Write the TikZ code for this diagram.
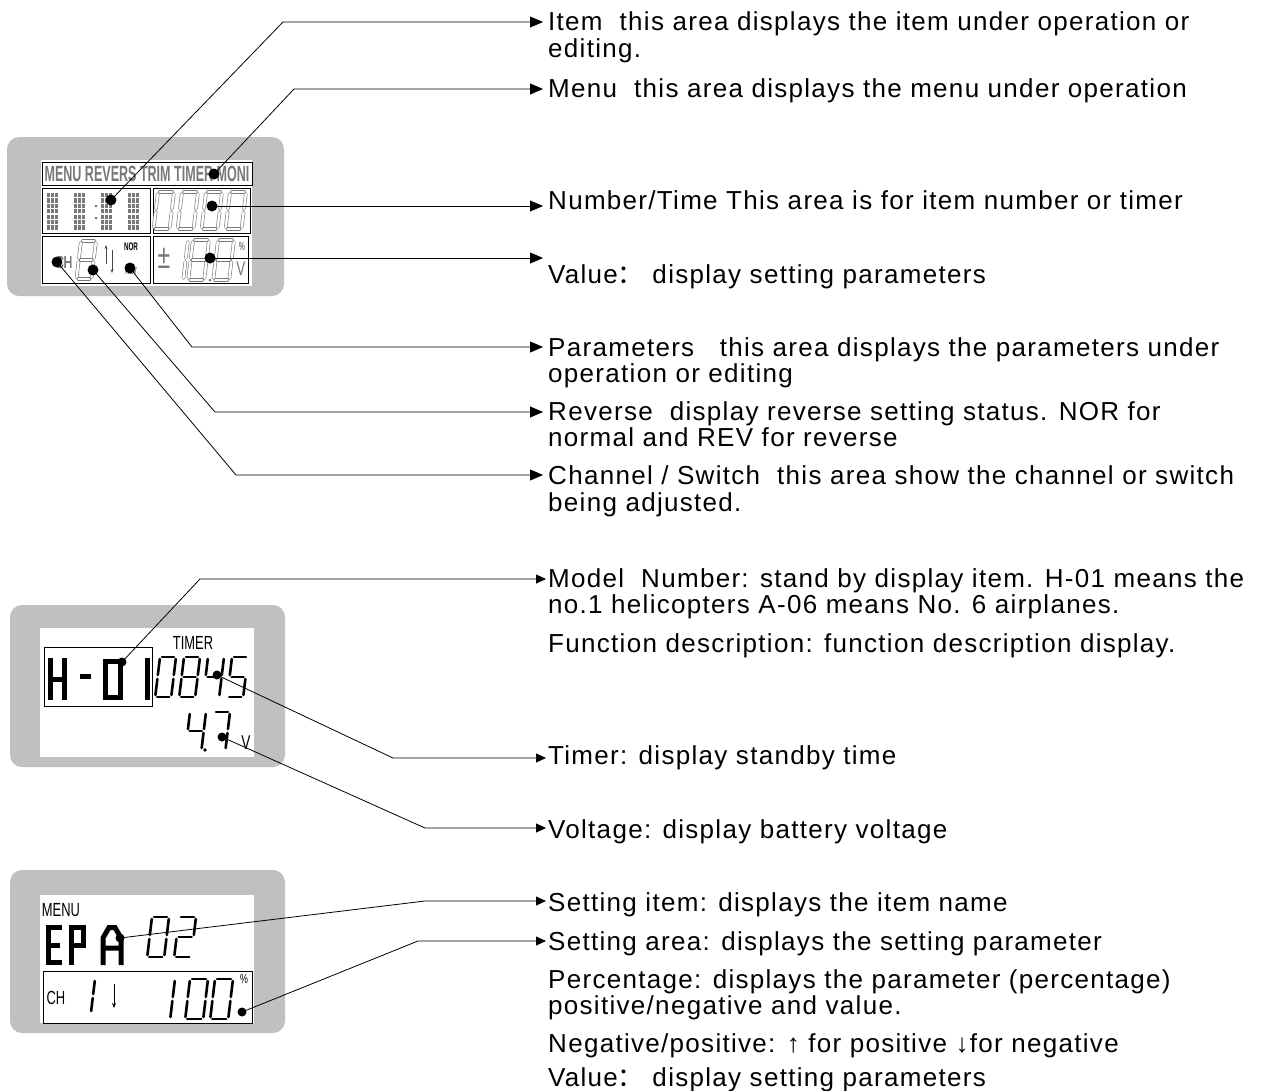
\documentclass[tikz,border=0pt]{standalone}
\usepackage{fontspec}
\setmainfont[LetterSpace=5]{Liberation Sans}
\newfontfamily\lcdfont[FakeStretch=0.68]{Liberation Sans}
\newfontfamily\lcdnarrow[FakeStretch=0.57]{Liberation Sans}
\newfontfamily\cjkfont{Noto Sans CJK SC}
\usetikzlibrary{arrows.meta}
\definecolor{panelgray}{RGB}{192,192,192}
\definecolor{lcdgray}{RGB}{120,120,120}
\newcommand{\fwcolon}{{\cjkfont ：}}
% seven segment digit: origin, width, height, style, segments
\newcommand{\lcddigit}[5]{%
  \begin{scope}[shift={(#1)},xslant=0.12]
    \coordinate (a1) at (2,0);        \coordinate (a2) at (#2-2,0);
    \coordinate (b1) at (#2,2);       \coordinate (b2) at (#2,#3/2-2);
    \coordinate (c1) at (#2,#3/2+2);  \coordinate (c2) at (#2,#3-2);
    \coordinate (d1) at (2,#3);       \coordinate (d2) at (#2-2,#3);
    \coordinate (e1) at (0,#3/2+2);   \coordinate (e2) at (0,#3-2);
    \coordinate (f1) at (0,2);        \coordinate (f2) at (0,#3/2-2);
    \coordinate (g1) at (2,#3/2);     \coordinate (g2) at (#2-2,#3/2);
    \foreach \sg in {#5} {\draw[#4] (\sg1) -- (\sg2);}
  \end{scope}}

\begin{document}
\begin{tikzpicture}[x=1pt,y=-1pt,
    panel/.style={fill=panelgray,rounded corners=12pt},
    field/.style={draw,line width=0.8pt},
    lead/.style={line width=0.8pt,-{Triangle[length=13pt,width=11pt]}},
    leadsm/.style={line width=0.8pt,-{Triangle[length=10pt,width=9pt]}},
    txt/.style={anchor=base west,inner sep=0pt,font=\fontsize{26}{27}\selectfont},
    lcd/.style={inner sep=0pt,font=\lcdfont\fontsize{#1}{#1}\selectfont},
    lcdb/.style={inner sep=0pt,font=\lcdnarrow\bfseries\fontsize{#1}{#1}\selectfont},
    gseg/.style={draw=lcdgray,line width=0.6pt,double=white,double distance=2.4pt,line cap=round},
    bseg/.style={line width=2.6pt,line cap=round},
    blk/.style={line width=5pt}]
  \useasboundingbox (0,0) rectangle (1261,1090);

  % first screen
  \fill[panel] (7,137) rectangle (284,296);
  \fill[white] (41,160) rectangle (252,286);
  \draw[field] (42,162) rectangle (252,185);
  \draw[field] (42,188) rectangle (150,233);
  \draw[field] (153,188) rectangle (250,233);
  \draw[field] (42,236) rectangle (150,283);
  \draw[field] (153,236) rectangle (248,283);
  \node[lcdb=22,text=lcdgray] (menurow) at (147,174) {MENU REVERS TRIM TIMER MONI};
  \foreach \x in {47,74,101,128}
    \foreach \r in {0,...,6}
      \foreach \c in {0,1,2}
        \fill[lcdgray] (\x+\c*4,193+\r*5.4) rectangle +(3,4.2);
  \fill[lcdgray] (95,205) rectangle +(2,2) (95,217) rectangle +(2,2);
  \foreach \x in {158,182,206,230}
    \lcddigit{\x,192}{16}{37}{gseg}{a,b,c,d,e,f,g}
  \node[lcd=17,text=lcdgray] (chA) at (64,263) {CH};
  \lcddigit{81,241}{15}{38}{gseg}{a,b,c,d,e,f,g}
  \draw[lcdgray!60!black,line width=0.8pt,-{Stealth[length=4pt,width=3pt]}] (106,264) -- (106,245);
  \draw[lcdgray!60!black,line width=0.8pt,-{Stealth[length=4pt,width=3pt]}] (112,250) -- (112,273);
  \node[lcdb=11] (nor) at (131,247) {NOR};
  \node[lcdb=10,text=lcdgray] (rev) at (131,271) {REV};
  \node[lcd=34,text=lcdgray] (pm) at (164,258) {±};
  \lcddigit{176,240}{12}{40}{gseg}{b,c}
  \lcddigit{193,240}{16}{40}{gseg}{a,b,c,d,e,f,g}
  \fill[lcdgray] (210,280) circle (1.5);
  \lcddigit{218,240}{16}{40}{gseg}{a,b,c,d,e,f,g}
  \node[lcdb=12,text=lcdgray] (pctA) at (242,246) {\%};
  \node[lcd=20,text=lcdgray] (voltA) at (241,269) {V};

  \coordinate (dItem) at (111,200); \coordinate (kItem) at (283,22);  \coordinate (tItem) at (543,22);
  \coordinate (dMenu) at (214,174); \coordinate (kMenu) at (294,89);  \coordinate (tMenu) at (543,89);
  \coordinate (dNum)  at (212,206); \coordinate (tNum)  at (543,206);
  \coordinate (dVal)  at (210,258); \coordinate (tVal)  at (543,258);
  \coordinate (dPar)  at (130,268); \coordinate (kPar)  at (192,347); \coordinate (tPar)  at (543,347);
  \coordinate (dRev)  at (93,270);  \coordinate (kRev)  at (215,412); \coordinate (tRev)  at (543,412);
  \coordinate (dCh)   at (57,262);  \coordinate (kCh)   at (236,475); \coordinate (tCh)   at (543,475);
  \foreach \d in {dItem,dMenu,dNum,dVal,dPar,dRev,dCh}
    \fill (\d) circle (5.5);
  \draw[lead] (dItem) -- (kItem) -- (tItem);
  \draw[lead] (dMenu) -- (kMenu) -- (tMenu);
  \draw[lead] (dNum) -- (tNum);
  \draw[lead] (dVal) -- (tVal);
  \draw[lead] (dPar) -- (kPar) -- (tPar);
  \draw[lead] (dRev) -- (kRev) -- (tRev);
  \draw[lead] (dCh) -- (kCh) -- (tCh);

  \node[txt] (item) at (548,30) {Item\ \ this area displays the item under operation or};
  \node[txt] (itemb) at (548,57) {editing.};
  \node[txt] (menu) at (548,97) {Menu\ \ this area displays the menu under operation};
  \node[txt] (num) at (548,209) {Number/Time This area is for item number or timer};
  \node[txt] (val) at (548,283) {Value\fwcolon\ display setting parameters};
  \node[txt] (par) at (548,356) {Parameters\ \ \ this area displays the parameters under};
  \node[txt] (parb) at (548,382) {operation or editing};
  \node[txt] (rev) at (548,420) {Reverse\ \ display reverse setting status. NOR for};
  \node[txt] (revb) at (548,446) {normal and REV for reverse};
  \node[txt] (chan) at (548,484) {Channel / Switch\ \ this area show the channel or switch};
  \node[txt] (chanb) at (548,511) {being adjusted.};

  % second screen
  \fill[panel] (10,605) rectangle (285,767);
  \fill[white] (40,628) rectangle (254,757);
  \draw[field] (44,647) rectangle (152,706);
  \draw[blk] (50,658) -- (50,700) (64,658) -- (64,700) (50,679) -- (64,679)
             (80,676) -- (91,676) (147,658) -- (147,700);
  \draw[blk] (105,661) rectangle (120,697);
  \node[lcd=19] (timerlbl) at (193,643) {TIMER};
  \lcddigit{160,657}{16}{40}{bseg}{a,b,c,d,e,f}
  \lcddigit{184,657}{16}{40}{bseg}{a,b,c,d,e,f,g}
  \lcddigit{208,657}{16}{40}{bseg}{f,g,b,c}
  \lcddigit{232,657}{16}{40}{bseg}{a,f,g,c,d}
  \lcddigit{190,712}{16}{38}{bseg}{f,g,b,c}
  \fill (205,750) circle (1.8);
  \lcddigit{214,712}{16}{38}{bseg}{a,b,c}
  \node[lcd=20] (voltB) at (246,743) {V};

  \coordinate (dModel) at (122,662); \coordinate (kModel) at (200,579); \coordinate (tModel) at (546,579);
  \coordinate (dTimer) at (217,675); \coordinate (kTimer) at (393,758); \coordinate (tTimer) at (546,758);
  \coordinate (dVolt)  at (222,737); \coordinate (kVolt)  at (425,828); \coordinate (tVolt)  at (546,828);
  \foreach \d in {dModel,dTimer,dVolt}
    \fill (\d) circle (4.5);
  \draw[leadsm] (dModel) -- (kModel) -- (tModel);
  \draw[leadsm] (dTimer) -- (kTimer) -- (tTimer);
  \draw[leadsm] (dVolt) -- (kVolt) -- (tVolt);

  \node[txt] (model) at (548,587) {Model\ \ Number: stand by display item. H-01 means the};
  \node[txt] (modelb) at (548,613) {no.1 helicopters A-06 means No. 6 airplanes.};
  \node[txt] (func) at (548,652) {Function description: function description display.};
  \node[txt] (timer) at (548,764) {Timer: display standby time};
  \node[txt] (volt) at (548,838) {Voltage: display battery voltage};

  % third screen
  \fill[panel] (10,870) rectangle (285,1033);
  \fill[white] (40,895) rectangle (254,1023);
  \draw[field] (43,971) rectangle (252,1023);
  \node[lcd=19] (menulbl) at (61,910) {MENU};
  \draw[blk] (62,927.5) -- (48,927.5) -- (48,962.5) -- (62,962.5) (48,945) -- (60,945);
  \draw[blk] (71,965) -- (71,927.5) -- (83,927.5) -- (83,945) -- (71,945);
  \draw[blk] (103,965) -- (103,938) -- (109,927.5) -- (115,927.5) -- (121,938) -- (121,965)
             (103,948) -- (121,948);
  \lcddigit{152,917}{17}{40}{bseg}{a,b,c,d,e,f}
  \lcddigit{179,917}{17}{40}{bseg}{a,b,g,e,d}
  \node[lcd=19] (chB) at (56,998) {CH};
  \lcddigit{85,979}{10}{34}{bseg}{b,c}
  \draw[line width=0.8pt,-{Stealth[length=5pt,width=4pt]}] (114,984) -- (114,1008);
  \lcddigit{165,979}{10}{40}{bseg}{b,c}
  \lcddigit{190,979}{18}{40}{bseg}{a,b,c,d,e,f}
  \lcddigit{215,979}{18}{40}{bseg}{a,b,c,d,e,f}
  \node[lcd=13] (pctB) at (244,979) {\%};

  \coordinate (dSet)  at (120,938); \coordinate (kSet)  at (425,901); \coordinate (tSet)  at (546,901);
  \coordinate (dArea) at (242,1012); \coordinate (kArea) at (418,941); \coordinate (tArea) at (546,941);
  \foreach \d in {dSet,dArea}
    \fill (\d) circle (4.5);
  \draw[leadsm] (dSet) -- (kSet) -- (tSet);
  \draw[leadsm] (dArea) -- (kArea) -- (tArea);

  \node[txt] (set) at (548,911) {Setting item: displays the item name};
  \node[txt] (area) at (548,950) {Setting area: displays the setting parameter};
  \node[txt] (pct) at (548,988) {Percentage: displays the parameter (percentage)};
  \node[txt] (pctb) at (548,1014) {positive/negative and value.};
  \node[txt] (neg) at (548,1052) {Negative/positive: ↑ for positive ↓for negative};
  \node[txt] (valb) at (548,1086) {Value\fwcolon\ display setting parameters};
\end{tikzpicture}
\end{document}
